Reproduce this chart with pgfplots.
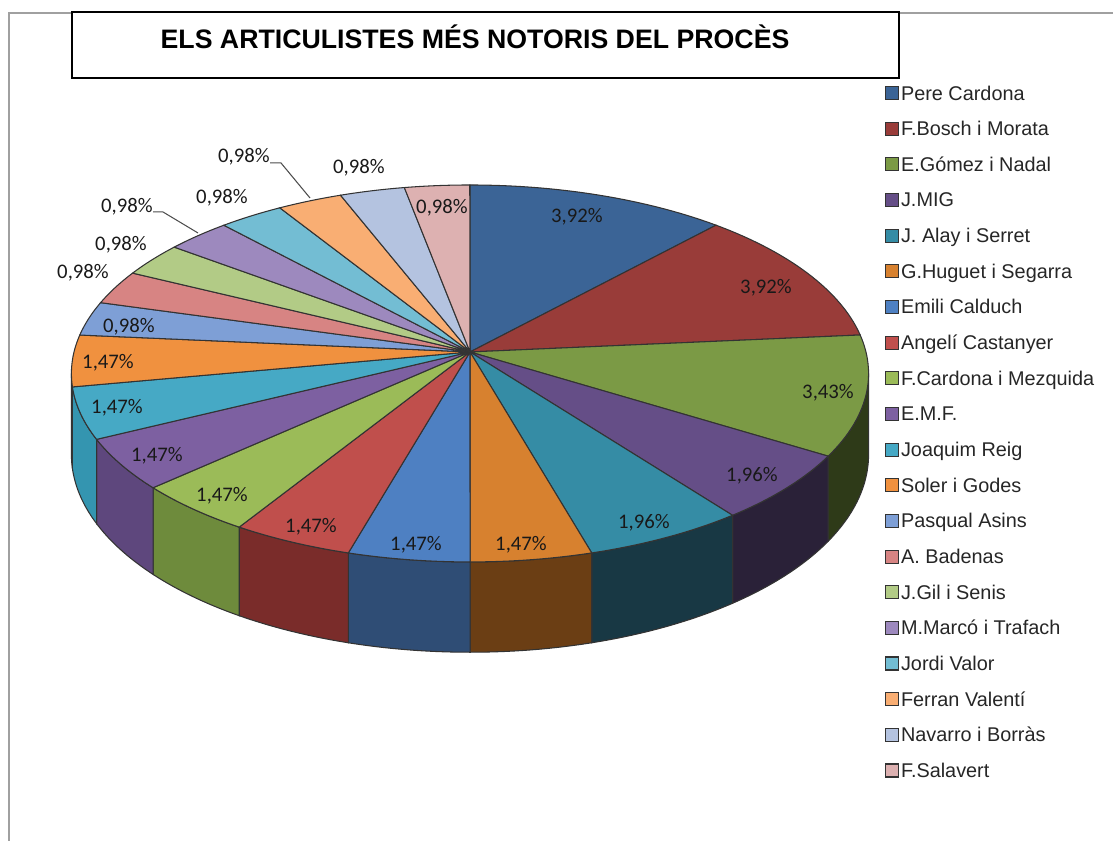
\documentclass[border=0pt]{standalone}
\usepackage{fontspec}
\setmainfont{Liberation Sans}
\newfontfamily\lblfont{Carlito}
\usepackage{pgfplots}
\pgfplotsset{compat=1.18}

% top-face colours
\definecolor{top1}{HTML}{3B6496}
\definecolor{top2}{HTML}{993C39}
\definecolor{top3}{HTML}{7B9A45}
\definecolor{top4}{HTML}{654E87}
\definecolor{top5}{HTML}{358CA5}
\definecolor{top6}{HTML}{D7812F}
\definecolor{top7}{HTML}{4E80C2}
\definecolor{top8}{HTML}{C04F4C}
\definecolor{top9}{HTML}{9BBB58}
\definecolor{top10}{HTML}{7D60A1}
\definecolor{top11}{HTML}{46A9C5}
\definecolor{top12}{HTML}{F0913F}
\definecolor{top13}{HTML}{7E9FD6}
\definecolor{top14}{HTML}{D78483}
\definecolor{top15}{HTML}{B2CB86}
\definecolor{top16}{HTML}{9D89BE}
\definecolor{top17}{HTML}{73BDD3}
\definecolor{top18}{HTML}{F9AE73}
\definecolor{top19}{HTML}{B4C3E0}
\definecolor{top20}{HTML}{DDB1B1}
% side-wall colours
\definecolor{wall1}{HTML}{253F60}
\definecolor{wall2}{HTML}{5E2523}
\definecolor{wall3}{HTML}{2E3A18}
\definecolor{wall4}{HTML}{2A2138}
\definecolor{wall5}{HTML}{183844}
\definecolor{wall6}{HTML}{6B3E14}
\definecolor{wall7}{HTML}{2F4D75}
\definecolor{wall8}{HTML}{7A2C2A}
\definecolor{wall9}{HTML}{6E8B3C}
\definecolor{wall10}{HTML}{5E477D}
\definecolor{wall11}{HTML}{3495B0}
\definecolor{wall12}{HTML}{B86A2A}
\definecolor{wall13}{HTML}{5A78A8}
\definecolor{wall14}{HTML}{A86462}
\definecolor{wall15}{HTML}{8AA264}
\definecolor{wall16}{HTML}{786696}
\definecolor{wall17}{HTML}{5295AA}
\definecolor{wall18}{HTML}{C88A58}
\definecolor{wall19}{HTML}{8C99B3}
\definecolor{wall20}{HTML}{B08C8C}
\definecolor{framegray}{HTML}{A0A0A0}

% slice values (percent of articles)
\def\vals{3.92,3.92,3.43,1.96,1.96,1.47,1.47,1.47,1.47,1.47,1.47,1.47,0.98,0.98,0.98,0.98,0.98,0.98,0.98,0.98}
\def\tot{0}
\foreach \v in \vals {\pgfmathsetmacro\tmpsum{\tot+\v}\xdef\tot{\tmpsum}}
\def\cum{90}
\foreach \v [count=\i] in \vals {%
  \pgfmathsetmacro\sa{\cum}%
  \pgfmathsetmacro\sb{\cum-\v/\tot*360}%
  \pgfmathsetmacro\wa{min(\sa,-6.5)}%
  \pgfmathsetmacro\wb{max(\sb,-173.5)}%
  \pgfmathtruncatemacro\wf{(\wa>\wb+0.01)}%
  \expandafter\xdef\csname sA\i\endcsname{\sa}%
  \expandafter\xdef\csname sB\i\endcsname{\sb}%
  \expandafter\xdef\csname wA\i\endcsname{\wa}%
  \expandafter\xdef\csname wB\i\endcsname{\wb}%
  \expandafter\xdef\csname wF\i\endcsname{\wf}%
  \xdef\cum{\sb}%
}

\begin{document}
\begin{tikzpicture}
\begin{axis}[
  width=11.13cm, height=8.41cm, scale only axis,
  xmin=0, xmax=1113, ymin=0, ymax=841,
  hide axis, clip=false,
  declare function={
    rimx(\t,\r)=470+\r*396*cos(\t)/(1+0.114*\r*sin(\t));
    rimy(\t,\r,\d)=841-(352-\r*145.9*sin(\t)+\d*80)/(1+0.114*\r*sin(\t));
    wT(\s,\p,\q)=(\s<30.5)*(\p+(\q-\p)*\s/30)+(\s>30.5)*(\s<61.5)*(\q+(\p-\q)*(\s-31)/30)+(\s>61.5)*\p;
    wD(\s)=(\s>30.5)*(\s<61.5);
    sT(\s,\p,\q)=\p+(\q-\p)*min(max(\s,0),30)/30;
    sR(\s)=(\s>-0.5)*(\s<30.5);
  },
  legend entries={Pere Cardona, F.Bosch i Morata, E.Gómez i Nadal, J.MIG, J. Alay i Serret, G.Huguet i Segarra, Emili Calduch, Angelí Castanyer, F.Cardona i Mezquida, E.M.F., Joaquim Reig, Soler i Godes, Pasqual Asins, A. Badenas, J.Gil i Senis, M.Marcó i Trafach, Jordi Valor, Ferran Valentí, Navarro i Borràs, F.Salavert},
  legend style={at={(axis cs:885,755)}, anchor=north west, draw=none, fill=none,
    inner sep=0pt, outer sep=0pt, font=\fontsize{5.65}{6.5}\selectfont, text=black!85,
    row sep=0.1763cm, column sep=0pt, cells={anchor=west},
    nodes={inner xsep=0.02cm, inner ysep=0pt, text height=0.14cm, text depth=0.04cm}},
  legend image code/.code={\draw[#1,line width=0.3pt,draw=black!80] (0cm,-0.045cm) rectangle (0.13cm,0.085cm);},
]
\draw[framegray, line width=0.4pt] (axis cs:9,0) -- (axis cs:9,828) -- (axis cs:1113,828);
\draw[black, line width=0.45pt, fill=white] (axis cs:72,763) rectangle (axis cs:899,829);
\node[anchor=base, font=\fontsize{7.6}{9}\selectfont\bfseries] at (axis cs:475,792) {ELS ARTICULISTES MÉS NOTORIS DEL PROCÈS};

% side walls
\pgfplotsinvokeforeach{1,...,20}{
  \ifnum\csname wF#1\endcsname=1
  \addplot[forget plot, fill=wall#1, draw=black!80, line width=0.3pt, samples at={0,1,...,62}]
    ({rimx(wT(x,\csname wA#1\endcsname,\csname wB#1\endcsname),1)},
     {rimy(wT(x,\csname wA#1\endcsname,\csname wB#1\endcsname),1,wD(x))});
  \fi
}
% top faces
\pgfplotsinvokeforeach{1,...,20}{
  \addplot[fill=top#1, draw=black!80, line width=0.3pt, samples at={-1,0,...,31}]
    ({rimx(sT(x,\csname sA#1\endcsname,\csname sB#1\endcsname),sR(x))},
     {rimy(sT(x,\csname sA#1\endcsname,\csname sB#1\endcsname),sR(x),0)});
}

% data labels
\begin{scope}[every node/.style={font=\lblfont\fontsize{5.9}{7}\selectfont, text=black!90}]
\node at (axis cs:577,624) {3,92\%};
\node at (axis cs:766,553) {3,92\%};
\node at (axis cs:828,448) {3,43\%};
\node at (axis cs:752,365) {1,96\%};
\node at (axis cs:644,318) {1,96\%};
\node at (axis cs:521,296) {1,47\%};
\node at (axis cs:416,296) {1,47\%};
\node at (axis cs:311,314) {1,47\%};
\node at (axis cs:222,345) {1,47\%};
\node at (axis cs:157,385) {1,47\%};
\node at (axis cs:117,433) {1,47\%};
\node at (axis cs:108,478) {1,47\%};
\node at (axis cs:129,514) {0,98\%};
\node at (axis cs:83,568) {0,98\%};
\node at (axis cs:121,596) {0,98\%};
\node at (axis cs:127,634) {0,98\%};
\node at (axis cs:222,643) {0,98\%};
\node at (axis cs:244,684) {0,98\%};
\node at (axis cs:359,673) {0,98\%};
\node at (axis cs:442,633) {0,98\%};
\end{scope}
\draw[black!70, line width=0.3pt] (axis cs:270,678) -- (axis cs:281,678) -- (axis cs:310,643);
\draw[black!70, line width=0.3pt] (axis cs:153,629) -- (axis cs:163,629) -- (axis cs:198,608);
\end{axis}
\pgfresetboundingbox
\path[use as bounding box] (0,0) rectangle (11.13cm,8.41cm);
\end{tikzpicture}
\end{document}
